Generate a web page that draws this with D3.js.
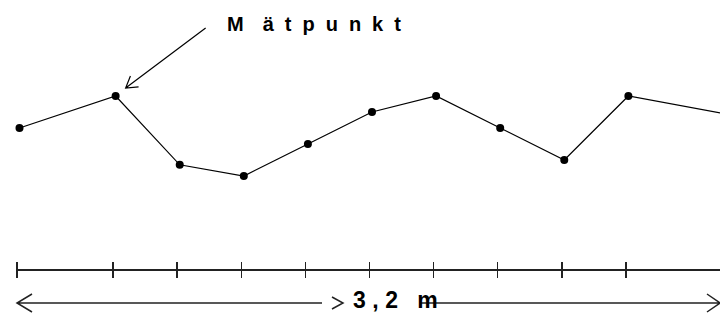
<!DOCTYPE html>
<html lang="sv">
<head>
<meta charset="utf-8">
<title>Mätpunkt</title>
<style type="text/css">
  body { margin: 0; background: white; }
  svg { display: block; background: white; }
  .profile { fill: none; stroke: black; stroke-width: 1.2px; }
  .dot { fill: black; }
  .axis-line, .tick { stroke: #222; stroke-width: 1.6px; shape-rendering: crispEdges; }
  .measure { fill: none; stroke: #222; stroke-width: 1.5px; }
  .pointer { fill: none; stroke: black; stroke-width: 1.2px; }
  text { font-family: "Liberation Sans", Arial, sans-serif; font-weight: bold; fill: black; }
</style>
</head>
<body>
<script src="https://cdnjs.cloudflare.com/ajax/libs/d3/7.8.5/d3.min.js"></script>
<script>

// measurement positions along the profile (grid units) and measured heights
var positions = [0, 1.5, 2.5, 3.5, 4.5, 5.5, 6.5, 7.5, 8.5, 9.5, 11];
var heights   = [5, 7, 2.7, 2, 4, 6, 7, 5, 3, 7, 5.9];
// tick marks on the ruler
var tickPositions = [0, 1.5, 2.5, 3.5, 4.5, 5.5, 6.5, 7.5, 8.5, 9.5];
var pointLabel = "Mätpunkt";
var lengthLabel = "3,2 m";
var labelledPoint = 1;

var width = 720, height = 313;
var axisY = 270, arrowY = 303;

var x = d3.scaleLinear().domain([0, 11]).range([17, 722]);
var y = d3.scaleLinear().domain([0, 13]).range([208, 0]);

var svg = d3.select("body").append("svg")
    .attr("width", width)
    .attr("height", height);

// ruler
svg.append("line")
    .attr("class", "axis-line")
    .attr("x1", x(0)).attr("x2", width + 5)
    .attr("y1", axisY).attr("y2", axisY);

svg.selectAll("line.tick")
    .data(tickPositions)
    .enter()
    .append("line")
    .attr("class", "tick")
    .attr("x1", function(d) { return x(d); })
    .attr("x2", function(d) { return x(d); })
    .attr("y1", axisY - 8)
    .attr("y2", axisY + 8);

// profile line and points (drawn a few px right of the ticks, as in the original)
var profile = svg.append("g").attr("transform", "translate(2.5,0)");

var pts = positions.map(function(p, i) { return [p, heights[i]]; });

var line = d3.line()
    .x(function(d) { return x(d[0]); })
    .y(function(d) { return y(d[1]); });

profile.append("path")
    .datum(pts)
    .attr("class", "profile")
    .attr("d", line);

profile.selectAll("circle")
    .data(pts)
    .enter()
    .append("circle")
    .attr("class", "dot")
    .attr("cx", function(d) { return x(d[0]); })
    .attr("cy", function(d) { return y(d[1]); })
    .attr("r", 4);

// label with pointer arrow to the second point
var target = pts[labelledPoint];
var tx = x(target[0]) + 2.5 + 10, ty = y(target[1]) - 8;
var sx = tx + 80, sy = ty - 60;
var ang = Math.atan2(sy - ty, sx - tx);
var headLen = 13, headAng = 0.55;

svg.append("path")
    .attr("class", "pointer")
    .attr("d", "M" + sx + "," + sy + "L" + tx + "," + ty +
        "M" + (tx + headLen * Math.cos(ang - headAng)) + "," + (ty + headLen * Math.sin(ang - headAng)) +
        "L" + tx + "," + ty +
        "L" + (tx + headLen * Math.cos(ang + headAng)) + "," + (ty + headLen * Math.sin(ang + headAng)));

var lbl = svg.append("text")
    .attr("x", 227)
    .attr("y", 31)
    .style("font-size", "20px")
    .style("letter-spacing", "11px");
lbl.append("tspan").text(pointLabel.charAt(0));
lbl.append("tspan").attr("dx", 8).text(pointLabel.slice(1));

// total length arrow
var leftEnd = x(0), rightEnd = width, gapStart = 322, gapEnd = 420;
svg.append("path")
    .attr("class", "measure")
    .attr("d",
        "M" + leftEnd + "," + arrowY + "L" + gapStart + "," + arrowY +
        "M" + (leftEnd + 15) + "," + (arrowY - 9) + "L" + leftEnd + "," + arrowY + "L" + (leftEnd + 15) + "," + (arrowY + 9) +
        "M" + gapEnd + "," + arrowY + "L" + rightEnd + "," + arrowY +
        "M" + (rightEnd - 13) + "," + (arrowY - 9) + "L" + rightEnd + "," + arrowY + "L" + (rightEnd - 13) + "," + (arrowY + 9) +
        "M" + (gapStart + 10) + "," + (arrowY - 6) + "L" + (gapStart + 21) + "," + arrowY + "L" + (gapStart + 10) + "," + (arrowY + 6));

svg.append("text")
    .attr("x", 353)
    .attr("y", 308)
    .style("font-size", "23px")
    .style("letter-spacing", "6.5px")
    .text(lengthLabel);

</script>
</body>
</html>
